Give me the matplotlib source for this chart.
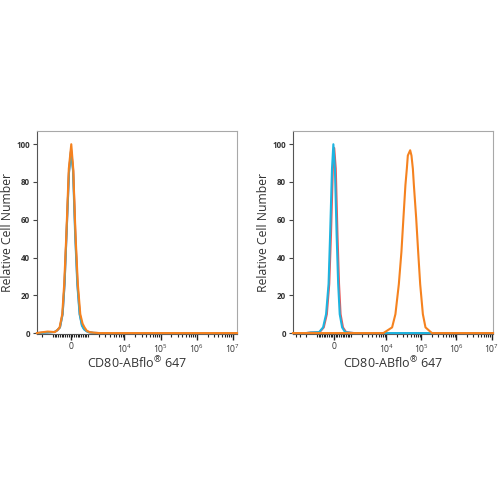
import numpy as np
import matplotlib
matplotlib.use("Agg")
import matplotlib.pyplot as plt

plt.rcParams['font.family'] = ['Open Sans', 'DejaVu Sans']
plt.rcParams['mathtext.fontset'] = 'custom'
plt.rcParams['mathtext.rm'] = 'Open Sans'
plt.rcParams['mathtext.it'] = 'Open Sans'
plt.rcParams['mathtext.bf'] = 'Open Sans:bold'

# ---- data (fluorescence intensity, relative cell number) ----
# Left panel
L_orange_x = [-2750, -2000, -1400, -1000, -900, -750, -620, -470, -360, -240, -100, 40, 150, 280, 410, 550, 680, 790, 920, 1090, 1400, 2000, 3000, 1e4, 1e5, 1e6, 1.3e7]
L_orange_y = [0, 0.4, 0.8, 0.6, 0.5, 1.5, 3, 10, 26, 52, 87, 100, 87, 52, 26, 10, 5, 3, 1.2, 0.5, 0.2, 0, 0, 0, 0, 0, 0]
L_blue_x = [-2750, -1400, -1000, -900, -750, -600, -450, -340, -230, -90, 20, 140, 260, 380, 510, 640, 760, 900, 1050, 1400, 2000, 1.3e7]
L_blue_y = [0, 0.3, 0.5, 0.6, 1.5, 3, 10, 26, 52, 85, 96, 86, 52, 26, 10, 4, 2, 1, 0.4, 0.1, 0, 0]
L_red_x = [-2750, -1400, -1000, -900, -750, -600, -450, -340, -230, -90, 30, 150, 270, 390, 520, 650, 770, 910, 1060, 1400, 2000, 1.3e7]
L_red_y = [0, 0.3, 0.5, 0.6, 1.5, 3, 10, 26, 52, 85, 97, 86, 52, 26, 10, 4, 2, 1, 0.4, 0.1, 0, 0]

# Right panel
R_blue_x = [-4800, -2000, -1500, -1100, -870, -640, -465, -320, -230, -120, -40, 50, 150, 240, 330, 470, 640, 900, 1150, 1500, 1.1e7]
R_blue_y = [0, 0, 0.3, 0.4, 0.5, 3, 10, 26, 52, 87, 100, 87, 52, 26, 10, 3, 0.5, 0.2, 0, 0, 0]
R_red_x = [-4800, -2000, -1500, -1100, -840, -600, -420, -280, -180, -70, 10, 100, 200, 290, 380, 520, 700, 950, 1200, 1500, 1.1e7]
R_red_y = [0, 0, 0.3, 0.4, 0.5, 3, 10, 26, 52, 87, 98, 87, 52, 26, 10, 3, 0.5, 0.2, 0, 0, 0]
R_orange_x = [-4800, -1000, 0, 1000, 5000, 8260, 14650, 18200, 22750, 27000, 30800, 35100, 38500, 41100, 47900, 52200, 57200, 61100, 71000, 81000, 92500, 110300, 131000, 199500, 1e6, 1.1e7]
R_orange_y = [0, 0, 0, 0, 0, 0, 3, 10, 25.8, 43, 61, 78.4, 87, 94, 96.8, 94, 87, 78.4, 61, 43, 25.8, 10, 3, 0, 0, 0]

x_major = [0, 1e4, 1e5, 1e6, 1e7]
x_major_labels = ['0', r'$10^4$', r'$10^5$', r'$10^6$', r'$10^7$']
y_ticks = [0, 20, 40, 60, 80, 100]

ORANGE = '#f5821f'
BLUE = '#1db4e0'
RED = '#e8585a'

fig = plt.figure(figsize=(5, 5), dpi=100)
axL = fig.add_axes([0.074, 0.332, 0.40, 0.406])
axR = fig.add_axes([0.586, 0.332, 0.40, 0.406])

def minor_positions(xmin, xmax):
    pos = []
    for v in range(100, 1000, 100):
        pos += [v, -v]
    for d in range(3, 7):
        for m in range(2, 10):
            pos.append(m * 10 ** d)
            pos.append(-m * 10 ** d)
    pos.append(1000); pos.append(-1000)
    return [p for p in pos if xmin <= p <= xmax]

def style(ax, xmin, xmax):
    ax.set_xscale('symlog', linthresh=1000, linscale=0.44)
    ax.set_xlim(xmin, xmax)
    ax.set_ylim(-0.5, 107)
    ax.set_xticks(x_major)
    ax.set_xticklabels(x_major_labels)
    ax.set_xticks(minor_positions(xmin, xmax), minor=True)
    ax.set_yticks(y_ticks)
    ax.tick_params(axis='x', which='major', length=4, width=1, colors='#222', labelsize=6.2, pad=2, labelcolor='#333')
    ax.tick_params(axis='x', which='minor', length=2.5, width=0.8, colors='#222')
    ax.tick_params(axis='y', which='major', length=3, width=0.8, colors='#444', labelsize=5.8, pad=2, labelcolor='#333')
    for s in ['top', 'right']:
        ax.spines[s].set_color('#a8a8a8')
        ax.spines[s].set_linewidth(0.8)
    for s in ['left', 'bottom']:
        ax.spines[s].set_color('#555555')
        ax.spines[s].set_linewidth(0.8)
    ax.set_ylabel('Relative Cell Number', fontsize=8.8, color='#333', labelpad=2)
    ax.set_xlabel(r'CD80-ABflo$^{®}$ 647', fontsize=9, color='#333', labelpad=0)
    for lab in ax.get_yticklabels():
        lab.set_fontweight('bold')

style(axL, -2750, 1.3e7)
style(axR, -4800, 1.1e7)

lw = 1.5
axL.plot(L_red_x, L_red_y, color=RED, lw=lw, zorder=3, clip_on=False)
axL.plot(L_blue_x, L_blue_y, color=BLUE, lw=lw, zorder=4, clip_on=False)
axL.plot(L_orange_x, L_orange_y, color=ORANGE, lw=lw, zorder=5, clip_on=False)

axR.plot(R_red_x, R_red_y, color=RED, lw=lw, zorder=3, clip_on=False)
axR.plot(R_blue_x, R_blue_y, color=BLUE, lw=lw, zorder=4, clip_on=False)
axR.plot(R_orange_x, R_orange_y, color=ORANGE, lw=lw, zorder=5, clip_on=False)

fig.savefig('out.png', dpi=100, facecolor='white')
